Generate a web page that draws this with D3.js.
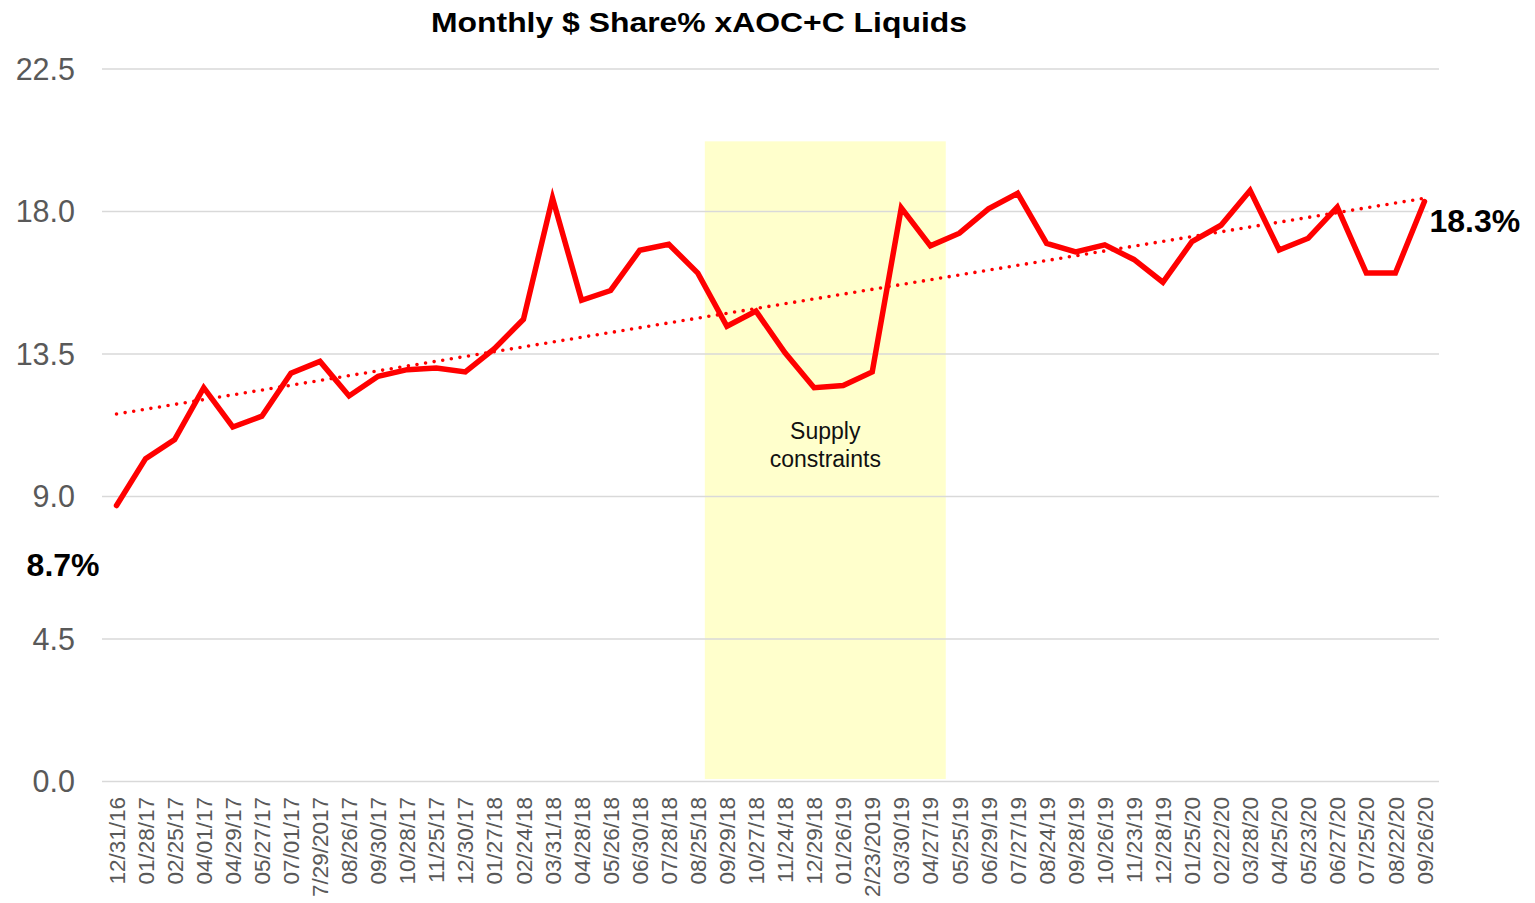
<!DOCTYPE html>
<html><head><meta charset="utf-8">
<script src="https://cdn.jsdelivr.net/npm/d3@7"></script>
<style>body{margin:0;background:#fff}svg{display:block}</style>
</head><body><svg id="c" width="1535" height="903"></svg>
<script>
const categories = ["12/31/16","01/28/17","02/25/17","04/01/17","04/29/17","05/27/17","07/01/17","7/29/2017","08/26/17","09/30/17","10/28/17","11/25/17","12/30/17","01/27/18","02/24/18","03/31/18","04/28/18","05/26/18","06/30/18","07/28/18","08/25/18","09/29/18","10/27/18","11/24/18","12/29/18","01/26/19","2/23/2019","03/30/19","04/27/19","05/25/19","06/29/19","07/27/19","08/24/19","09/28/19","10/26/19","11/23/19","12/28/19","01/25/20","02/22/20","03/28/20","04/25/20","05/23/20","06/27/20","07/25/20","08/22/20","09/26/20"];
const shareValues = [8.7,10.18,10.78,12.42,11.18,11.52,12.88,13.25,12.16,12.78,12.99,13.04,12.92,13.65,14.58,18.41,15.18,15.49,16.76,16.95,16.04,14.36,14.84,13.52,12.42,12.49,12.92,18.10,16.90,17.30,18.07,18.56,16.98,16.71,16.93,16.47,15.75,17.03,17.55,18.65,16.77,17.14,18.12,16.04,16.04,18.3];
const yTicks = [0,4.5,9,13.5,18,22.5];
const titleText = "Monthly $ Share% xAOC+C Liquids";
const bandStartIndex = 20.24;
const bandEndIndex = 28.53;
const bandTopValue = 20.2;
const bandLabelLines = ["Supply","constraints"];
const firstLabel = "8.7%";
const lastLabel = "18.3%";

const W = 1535, H = 903;
const L = 102, R = 1439, T = 68.5, B = 781;
const svg = d3.select("#c");
const font = "'Liberation Sans', Arial, sans-serif";
const n = categories.length;

const xBand = d3.scaleBand().domain(categories).range([L, R]);
const xi = d3.scaleLinear().domain([-0.5, n - 0.5]).range([L, R]);
const y = d3.scaleLinear().domain([0, 22.5]).range([B, T]);
const cx = i => xi(i);

// band
svg.append("rect")
  .attr("x", xi(bandStartIndex)).attr("width", xi(bandEndIndex) - xi(bandStartIndex))
  .attr("y", y(bandTopValue)).attr("height", y(0) - y(bandTopValue) - 2)
  .attr("fill", "#FFFFCC");

// y axis with gridlines
const yAxis = svg.append("g").attr("transform", `translate(${L},0)`)
  .call(d3.axisLeft(y).tickValues(yTicks).tickSize(-(R - L)).tickPadding(27).tickFormat(d3.format(".1f")));
yAxis.select(".domain").remove();
yAxis.selectAll("line").attr("stroke", "#D9D9D9").attr("stroke-width", 1.5);
yAxis.selectAll("text").attr("font-family", font).attr("font-size", 30.5).attr("fill", "#595959").attr("dy", "0.35em");

// x axis
const xAxis = svg.append("g").attr("transform", `translate(0,${B})`)
  .call(d3.axisBottom(xBand).tickSize(0).tickPadding(0));
xAxis.select(".domain").remove();
xAxis.selectAll("text")
  .attr("font-family", font).attr("font-size", 22.5).attr("fill", "#595959")
  .attr("text-anchor", "end")
  .attr("transform", "rotate(-90)")
  .attr("x", -16).attr("y", 0).attr("dy", "0.36em");

// band label
const bl = svg.append("text")
  .attr("x", xi((bandStartIndex + bandEndIndex) / 2))
  .attr("y", y(10.8))
  .attr("text-anchor", "middle")
  .attr("font-family", font).attr("font-size", 23).attr("fill", "#111");
bandLabelLines.forEach((t, i) => bl.append("tspan").attr("x", xi((bandStartIndex + bandEndIndex) / 2)).attr("dy", i ? 28 : 0).text(t));

// trend line (least squares)
const xs = d3.range(n);
const mx = d3.mean(xs), my = d3.mean(shareValues);
const slope = d3.sum(xs, i => (i - mx) * (shareValues[i] - my)) / d3.sum(xs, i => (i - mx) ** 2);
const intercept = my - slope * mx;
svg.append("line")
  .attr("x1", cx(0)).attr("y1", y(intercept))
  .attr("x2", cx(n - 1)).attr("y2", y(intercept + slope * (n - 1)))
  .attr("stroke", "#FF0000").attr("stroke-width", 3.6)
  .attr("stroke-linecap", "round").attr("stroke-dasharray", "0 8.7");

// main line
svg.append("path")
  .datum(shareValues)
  .attr("d", d3.line().x((d, i) => cx(i)).y(d => y(d)))
  .attr("fill", "none").attr("stroke", "#FF0000").attr("stroke-width", 5.5)
  .attr("stroke-linejoin", "miter").attr("stroke-linecap", "round");

// end labels
svg.append("text")
  .attr("x", cx(0) - 17).attr("y", y(shareValues[0]) + 70)
  .attr("text-anchor", "end").attr("font-family", font).attr("font-weight", "bold")
  .attr("font-size", 32).attr("fill", "#000").text(firstLabel);
svg.append("rect")
  .attr("x", cx(n - 1) + 4).attr("y", y(shareValues[n - 1]) + 3)
  .attr("width", 95).attr("height", 34).attr("fill", "#fff");
svg.append("text")
  .attr("x", cx(n - 1) + 5).attr("y", y(shareValues[n - 1]) + 30)
  .attr("text-anchor", "start").attr("font-family", font).attr("font-weight", "bold")
  .attr("font-size", 32).attr("fill", "#000").text(lastLabel);

// title
svg.append("text")
  .attr("x", 699).attr("y", 32)
  .attr("text-anchor", "middle").attr("font-family", font).attr("font-weight", "bold")
  .attr("font-size", 28).attr("fill", "#000")
  .attr("textLength", 536).attr("lengthAdjust", "spacingAndGlyphs")
  .text(titleText);
</script></body></html>
